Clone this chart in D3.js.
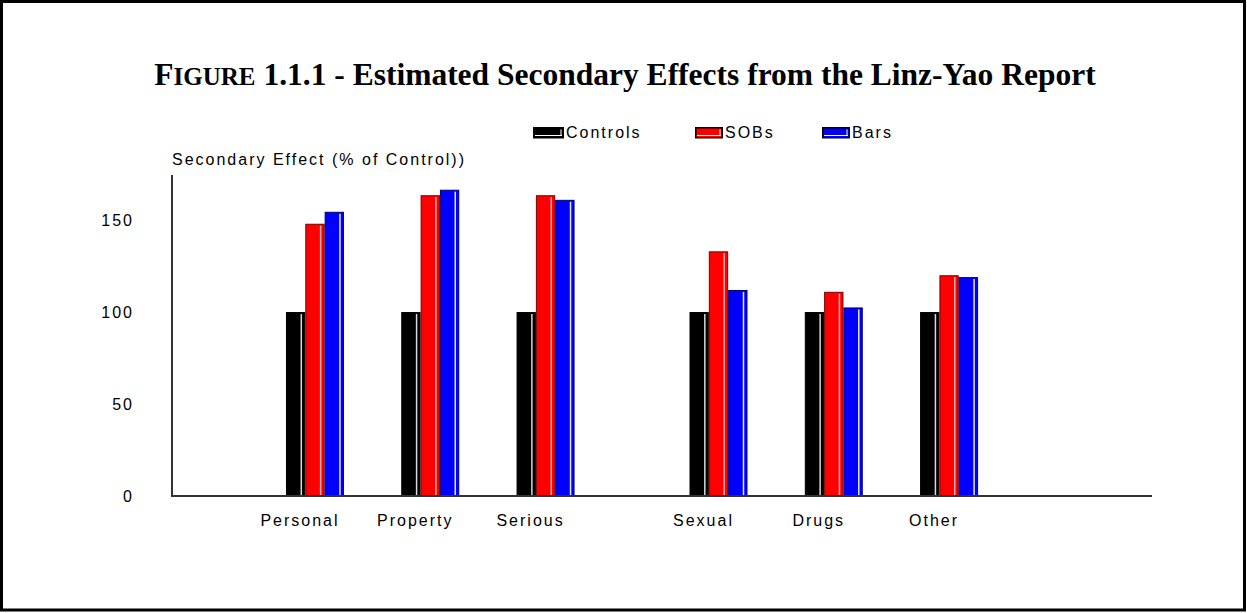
<!DOCTYPE html>
<html>
<head>
<meta charset="utf-8">
<script src="https://cdn.jsdelivr.net/npm/d3@7"></script>
<style>
  html, body { margin: 0; padding: 0; background: #fff; }
  svg text { font-family: "Liberation Sans", Arial, sans-serif; }
</style>
</head>
<body>
<svg id="chart" width="1247" height="613"></svg>
<script>
// ---- data ----
const categories = ["Personal", "Property", "Serious", "Sexual", "Drugs", "Other"];
const seriesNames = ["Controls", "SOBs", "Bars"];
const controls = [100, 100, 100, 100, 100, 100];
const sobs     = [148, 163.5, 163.5, 133, 111, 120];
const bars     = [154.5, 166.5, 161, 112, 102.5, 119];
const yTicks   = [0, 50, 100, 150];
const yLabel   = "Secondary Effect (% of Control))";
const titleCap = "F";
const titleSmall = "IGURE";
const titleRest = " 1.1.1 - Estimated Secondary Effects from the Linz-Yao Report";

const series = [controls, sobs, bars];
const fills   = ["#000000", "#ff0000", "#0000ff"];
const strokes = ["#000000", "#7a0000", "#00006e"];
const stripes = ["#d8d8d8", "#ffb0b0", "#e8e8ff"];

const svg = d3.select("#chart");
const W = 1247, H = 613;

// frame
svg.append("rect").attr("x", 1.5).attr("y", 1.5).attr("width", W - 4).attr("height", H - 4.5)
  .attr("fill", "none").attr("stroke", "#000").attr("stroke-width", 3);

// title
const t = svg.append("text").attr("x", 625).attr("y", 85).attr("text-anchor", "middle")
  .style("font-family", "'Liberation Serif', 'Times New Roman', serif")
  .style("font-weight", "bold").style("font-size", "31.5px").attr("fill", "#000");
t.append("tspan").text(titleCap);
t.append("tspan").style("font-size", "25px").text(titleSmall);
t.append("tspan").text(titleRest);

// scales
const axisLeft = 172, axisRight = 1152, baseY = 496, topY = 175;
// slot positions: half-slot gap between the two category blocks
const slot = (i) => i + (i >= 3 ? 0.5 : 0);
const x = d3.scaleLinear().domain([-1.24, 7.26]).range([axisLeft, axisRight]);
const y = d3.scaleLinear().domain([0, 174.5]).range([baseY, topY]);
const inner = d3.scaleBand().domain(seriesNames).range([-29, 29]).padding(0);

const textStyle = (sel) => sel.style("font-size", "16px").style("letter-spacing", "2px").attr("fill", "#000");

// y axis label
svg.append("text").attr("x", axisLeft).attr("y", 165).text(yLabel).call(textStyle);

// y tick labels
const yAxis = d3.axisLeft(y).tickValues(yTicks).tickSize(0).tickPadding(38).tickFormat(d3.format("d"));
const gy = svg.append("g").attr("transform", `translate(${axisLeft},0)`).call(yAxis);
gy.select(".domain").remove();
gy.selectAll("text").style("font-family", "'Liberation Sans', Arial, sans-serif")
  .style("font-size", "16px").style("letter-spacing", "2px").attr("fill", "#000");

// bars
categories.forEach((cat, i) => {
  const cx = x(slot(i));
  series.forEach((vals, s) => {
    const bx = cx + inner(seriesNames[s]);
    const bw = inner.bandwidth();
    const by = y(vals[i]);
    const bh = baseY - by;
    const g = svg.append("g");
    g.append("rect").attr("x", bx + 0.5).attr("y", by + 0.5).attr("width", bw - 1).attr("height", bh)
      .attr("fill", fills[s]).attr("stroke", strokes[s]).attr("stroke-width", 1);
    g.append("line").attr("x1", bx + bw - 4).attr("x2", bx + bw - 4)
      .attr("y1", by + 2).attr("y2", baseY - 1)
      .attr("stroke", stripes[s]).attr("stroke-width", 1.5);
  });
  svg.append("text").attr("x", cx - 15).attr("y", 526).attr("text-anchor", "middle")
    .text(cat).call(textStyle);
});

// axis lines
svg.append("line").attr("x1", axisLeft).attr("x2", axisLeft).attr("y1", topY).attr("y2", baseY)
  .attr("stroke", "#333").attr("stroke-width", 2);
svg.append("line").attr("x1", axisLeft - 1).attr("x2", axisRight).attr("y1", baseY).attr("y2", baseY)
  .attr("stroke", "#333").attr("stroke-width", 2);

// legend
const legendX = [533, 695, 822];
const swW = [31, 28, 28];
seriesNames.forEach((name, s) => {
  const lx = legendX[s];
  svg.append("rect").attr("x", lx + 0.75).attr("y", 127.75).attr("width", swW[s] - 1.5).attr("height", 10)
    .attr("fill", fills[s]).attr("stroke", "#000").attr("stroke-width", 1.5);
  svg.append("line").attr("x1", lx + 2).attr("x2", lx + swW[s] - 2).attr("y1", 135.5).attr("y2", 135.5)
    .attr("stroke", "#fff").attr("stroke-width", 1);
  svg.append("line").attr("x1", lx + swW[s] - 3).attr("x2", lx + swW[s] - 3).attr("y1", 129.5).attr("y2", 136)
    .attr("stroke", "#fff").attr("stroke-width", 1);
  svg.append("text").attr("x", lx + swW[s] + 2).attr("y", 138).text(name).call(textStyle);
});
</script>
</body>
</html>
